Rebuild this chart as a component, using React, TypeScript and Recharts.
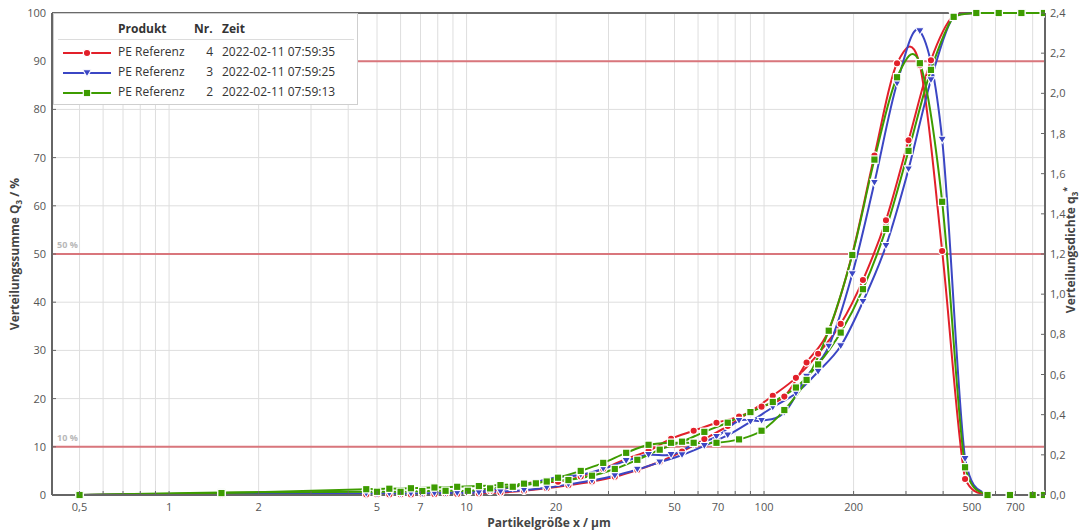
import React from 'react';
import { LineChart, Line, XAxis, YAxis, CartesianGrid, ReferenceLine, Legend } from 'recharts';

const FONT = '"Open Sans", "Noto Sans", sans-serif';

/* Partikelgrößen (µm): Q3 an Klassenobergrenzen, q3* an Klassenmitten */
const sizesSum = [0.5, 1.5, 4.6, 5.5, 6.5, 7.8, 9.3, 11, 13, 15.6, 18.6, 22, 26.4, 31.5, 37.5, 44.6, 53, 63, 75.5, 90, 107, 128, 152, 181, 215, 257, 306, 364, 434, 517, 615, 733, 873];
const sizesDens = [0.5, 1.5, 5.0, 6.0, 7.1, 8.5, 10.1, 12, 14.3, 17.1, 20.3, 24.2, 28.8, 34.4, 40.9, 48.7, 58, 69.2, 82.4, 98.1, 117, 139, 165, 198, 235, 280, 334, 397, 474, 564, 671, 800, 873];

// Nr. 4 (rot)
const sum4 = [0, 0.1, 0.1, 0.1, 0.12, 0.15, 0.2, 0.3, 0.5, 0.9, 1.4, 2.0, 2.8, 3.8, 5.2, 6.9, 9.0, 11.6, 14.3, 17.3, 20.6, 24.3, 29.3, 35.5, 44.6, 57.0, 73.6, 90.2, 99.6, 100, 100, 100, 100];
const dens4 = [0, 0.005, 0.002, 0.002, 0.005, 0.007, 0.013, 0.02, 0.04, 0.066, 0.066, 0.092, 0.13, 0.18, 0.22, 0.28, 0.32, 0.36, 0.39, 0.44, 0.49, 0.66, 0.82, 1.2, 1.69, 2.15, 2.14, 1.215, 0.08, 0, 0, 0, 0];
// Nr. 3 (blau)
const sum3 = [0, 0.2, 0.3, 0.3, 0.3, 0.35, 0.4, 0.5, 0.7, 1.0, 1.5, 2.2, 3.0, 4.0, 5.3, 6.8, 8.3, 10.2, 12.4, 15.2, 18.2, 21.1, 25.6, 30.9, 40.1, 51.7, 67.6, 86.1, 99.4, 100, 100, 100, 100];
const dens3 = [0, 0.004, 0.003, 0.004, 0.006, 0.008, 0.015, 0.025, 0.04, 0.065, 0.09, 0.1, 0.13, 0.17, 0.2, 0.2, 0.25, 0.29, 0.37, 0.37, 0.41, 0.59, 0.74, 1.1, 1.555, 2.05, 2.31, 1.77, 0.18, 0, 0, 0, 0];
// Nr. 2 (grün)
const sum2 = [0, 0.4, 1.2, 1.3, 1.4, 1.55, 1.7, 1.85, 2.05, 2.35, 2.8, 3.1, 4.0, 5.4, 7.3, 9.4, 11.06, 13.1, 15.0, 17.2, 19.3, 22.3, 27.1, 33.7, 42.7, 55.2, 71.4, 88.2, 99.2, 100, 100, 100, 100];
const dens2 = [0, 0.012, 0.016, 0.016, 0.02, 0.021, 0.021, 0.033, 0.041, 0.058, 0.086, 0.12, 0.16, 0.21, 0.25, 0.26, 0.26, 0.26, 0.277, 0.32, 0.423, 0.573, 0.818, 1.195, 1.67, 2.08, 2.15, 1.46, 0.138, 0, 0, 0, 0];

const products = ['PE Referenz', 'PE Referenz', 'PE Referenz'];
const numbers = [4, 3, 2];
const times = ['2022-02-11 07:59:35', '2022-02-11 07:59:25', '2022-02-11 07:59:13'];
const colors = ['#e2202a', '#3b46c4', '#3d9c00'];
const shapes = ['circle', 'triangle', 'square'];

const xGrid = [0.5, 0.6, 0.7, 0.8, 0.9, 1, 2, 3, 4, 5, 6, 7, 8, 9, 10, 20, 30, 40, 50, 60, 70, 80, 90, 100, 200, 300, 400, 500, 600, 700, 800];
const xLabeled = [0.5, 1, 2, 5, 7, 10, 20, 50, 70, 100, 200, 500, 700];
const sumTicks = [0, 10, 20, 30, 40, 50, 60, 70, 80, 90, 100];
const densTicks = [0, 0.2, 0.4, 0.6, 0.8, 1, 1.2, 1.4, 1.6, 1.8, 2, 2.2, 2.4];
const refLevels = [10, 50, 90];

const rows = (xs: number[], ys: number[]) => xs.map((x, i) => ({ x, y: ys[i] }));
const series = [
  { sum: rows(sizesSum, sum4), dens: rows(sizesDens, dens4) },
  { sum: rows(sizesSum, sum3), dens: rows(sizesDens, dens3) },
  { sum: rows(sizesSum, sum2), dens: rows(sizesDens, dens2) },
];

// Catmull-Rom, Kontrollpunkte optional auf den Wertebereich begrenzt (kein Überschwingen unter 0 / über 100 %)
const makeCurve = (clampTop: boolean) => (context: any) => {
  let pts: number[][] = [];
  return {
    areaStart() {},
    areaEnd() {},
    lineStart() { pts = []; },
    point(x: number, y: number) { pts.push([+x, +y]); },
    lineEnd() {
      if (!pts.length) return;
      const lo = clampTop ? Math.min(...pts.map((p) => p[1])) : -Infinity;
      const hi = Math.max(...pts.map((p) => p[1]));
      const cl = (v: number) => Math.max(lo, Math.min(hi, v));
      context.moveTo(pts[0][0], pts[0][1]);
      for (let i = 0; i < pts.length - 1; i++) {
        const a = pts[Math.max(0, i - 1)], b = pts[i], c = pts[i + 1], d = pts[Math.min(pts.length - 1, i + 2)];
        context.bezierCurveTo(
          b[0] + (c[0] - a[0]) / 6, cl(b[1] + (c[1] - a[1]) / 6),
          c[0] - (d[0] - b[0]) / 6, cl(c[1] - (d[1] - b[1]) / 6),
          c[0], c[1]
        );
      }
    },
  };
};
const sumCurve = makeCurve(true);
const densCurve = makeCurve(false);

function Marker({ shape, cx, cy, color }: { shape: string; cx: number; cy: number; color: string }) {
  if (shape === 'circle') return <circle cx={cx} cy={cy} r={3.7} fill={color} stroke="#fff" strokeWidth={1.3} />;
  if (shape === 'triangle')
    return <path d={`M${cx - 4.3},${cy - 3.3}L${cx + 4.3},${cy - 3.3}L${cx},${cy + 3.9}Z`} fill={color} stroke="#fff" strokeWidth={1.1} />;
  return <rect x={cx - 3.7} y={cy - 3.7} width={7.4} height={7.4} fill={color} stroke="#fff" strokeWidth={1.2} />;
}

const dotFor = (i: number) => (p: any) =>
  p.cx == null ? <g key={`e${p.index}`} /> : <Marker key={`m${p.index}`} shape={shapes[i]} cx={p.cx} cy={p.cy} color={colors[i]} />;

const XTick = ({ x, payload }: any) => {
  const v = payload.value;
  return (
    <g>
      <line x1={x} x2={x} y1={495} y2={491} stroke="#666" strokeWidth={1} />
      {xLabeled.includes(v) && (
        <text x={x} y={511} textAnchor="middle" fontSize={11} fill="#555" fontFamily={FONT}>
          {String(v).replace('.', ',')}
        </text>
      )}
    </g>
  );
};

const LeftTick = ({ y, payload }: any) => (
  <g>
    <line x1={52} x2={56} y1={y} y2={y} stroke="#666" />
    <text x={46} y={y + 4} textAnchor="end" fontSize={11} fill="#555" fontFamily={FONT}>{payload.value}</text>
  </g>
);

const RightTick = ({ y, payload }: any) => (
  <g>
    <line x1={1041} x2={1045} y1={y} y2={y} stroke="#666" />
    <text x={1050} y={y + 4} textAnchor="start" fontSize={11} fill="#555" fontFamily={FONT}>
      {Number(payload.value).toFixed(1).replace('.', ',')}
    </text>
  </g>
);

const yOf = (v: number) => 495 - v * 4.82;

function LegendBox() {
  const cell: React.CSSProperties = { position: 'absolute', lineHeight: '16px', whiteSpace: 'nowrap' };
  return (
    <div style={{ position: 'relative', width: 305, height: 92, background: '#fff', border: '1px solid #cfcfcf', boxSizing: 'border-box', fontFamily: FONT, fontSize: 12, color: '#333' }}>
      <div style={{ ...cell, left: 64, top: 7, fontWeight: 700 }}>Produkt</div>
      <div style={{ ...cell, left: 140, top: 7, fontWeight: 700 }}>Nr.</div>
      <div style={{ ...cell, left: 168, top: 7, fontWeight: 700 }}>Zeit</div>
      <div style={{ position: 'absolute', left: 4, right: 3, top: 25, borderTop: '1px solid #dcdcdc' }} />
      {products.map((name, i) => (
        <React.Fragment key={i}>
          <svg style={{ position: 'absolute', left: 9, top: 31 + i * 20 }} width={50} height={16}>
            <line x1={0} x2={48} y1={8} y2={8} stroke={colors[i]} strokeWidth={2} />
            <Marker shape={shapes[i]} cx={24} cy={8} color={colors[i]} />
          </svg>
          <div style={{ ...cell, left: 64, top: 30 + i * 20 }}>{name}</div>
          <div style={{ ...cell, left: 136, width: 23, textAlign: 'right', top: 30 + i * 20 }}>{numbers[i]}</div>
          <div style={{ ...cell, left: 168, top: 30 + i * 20 }}>{times[i]}</div>
        </React.Fragment>
      ))}
    </div>
  );
}

export default function App() {
  return (
    <div style={{ position: 'absolute', left: 0, top: 0, width: 1084, height: 531, background: '#fff', fontFamily: FONT }}>
      <LineChart width={1084} height={531} margin={{ top: 13, right: 0, bottom: 0, left: 0 }}>
        <CartesianGrid xAxisId="x" yAxisId="q" stroke="#dedede" strokeWidth={1} />
        <XAxis
          xAxisId="x"
          type="number"
          dataKey="x"
          scale="log"
          domain={[0.404, 880]}
          allowDataOverflow
          ticks={xGrid}
          interval={0}
          height={36}
          tickLine={false}
          axisLine={{ stroke: '#666', strokeWidth: 2 }}
          tick={<XTick />}
          label={() => (
            <text x={549} y={527} textAnchor="middle" fontSize={12} fontWeight={700} fill="#444" fontFamily={FONT}>
              Partikelgröße x / µm
            </text>
          )}
        />
        <YAxis
          yAxisId="q"
          orientation="left"
          width={52}
          domain={[0, 100]}
          ticks={sumTicks}
          interval={0}
          tickLine={false}
          axisLine={{ stroke: '#666', strokeWidth: 2 }}
          tick={<LeftTick />}
          label={() => (
            <text x={19} y={254} transform="rotate(-90 19 254)" textAnchor="middle" fontSize={12} fontWeight={700} fill="#444" fontFamily={FONT}>
              Verteilungssumme Q<tspan fontSize={8} dy={3}>3</tspan><tspan dy={-3}> / %</tspan>
            </text>
          )}
        />
        <YAxis
          yAxisId="d"
          orientation="right"
          width={39}
          domain={[0, 2.4]}
          ticks={densTicks}
          interval={0}
          tickLine={false}
          axisLine={{ stroke: '#666', strokeWidth: 2 }}
          tick={<RightTick />}
          label={() => (
            <text x={1075} y={250} transform="rotate(-90 1075 250)" textAnchor="middle" fontSize={12} fontWeight={700} fill="#444" fontFamily={FONT}>
              Verteilungsdichte q<tspan fontSize={8} dy={3}>3</tspan><tspan fontSize={9} dy={-8}>*</tspan>
            </text>
          )}
        />
        <ReferenceLine xAxisId="x" yAxisId="q" y={100} stroke="#6a6a6a" strokeWidth={2} />
        {refLevels.map((v) => (
          <ReferenceLine
            key={v}
            xAxisId="x"
            yAxisId="q"
            y={v}
            stroke="#d9767c"
            strokeWidth={2}
            label={() => (
              <text x={57} y={yOf(v) - 6} fontSize={9} fontWeight={700} fill="#b8b8b8" fontFamily={FONT}>
                {v} %
              </text>
            )}
          />
        ))}
        {series.map((s, i) => [
          <Line
            key={`d${i}`}
            xAxisId="x"
            yAxisId="d"
            data={s.dens}
            dataKey="y"
            type={densCurve as any}
            stroke={colors[i]}
            strokeWidth={2}
            dot={dotFor(i)}
            activeDot={false}
            legendType="none"
            isAnimationActive={false}
          />,
          <Line
            key={`s${i}`}
            xAxisId="x"
            yAxisId="q"
            data={s.sum}
            dataKey="y"
            type={sumCurve as any}
            stroke={colors[i]}
            strokeWidth={2}
            dot={dotFor(i)}
            activeDot={false}
            legendType="none"
            isAnimationActive={false}
          />,
        ])}
        <Legend
          layout="horizontal"
          verticalAlign="middle"
          align="center"
          wrapperStyle={{ left: 53, top: 13, width: 305, height: 92 }}
          content={() => <LegendBox />}
        />
      </LineChart>
    </div>
  );
}
